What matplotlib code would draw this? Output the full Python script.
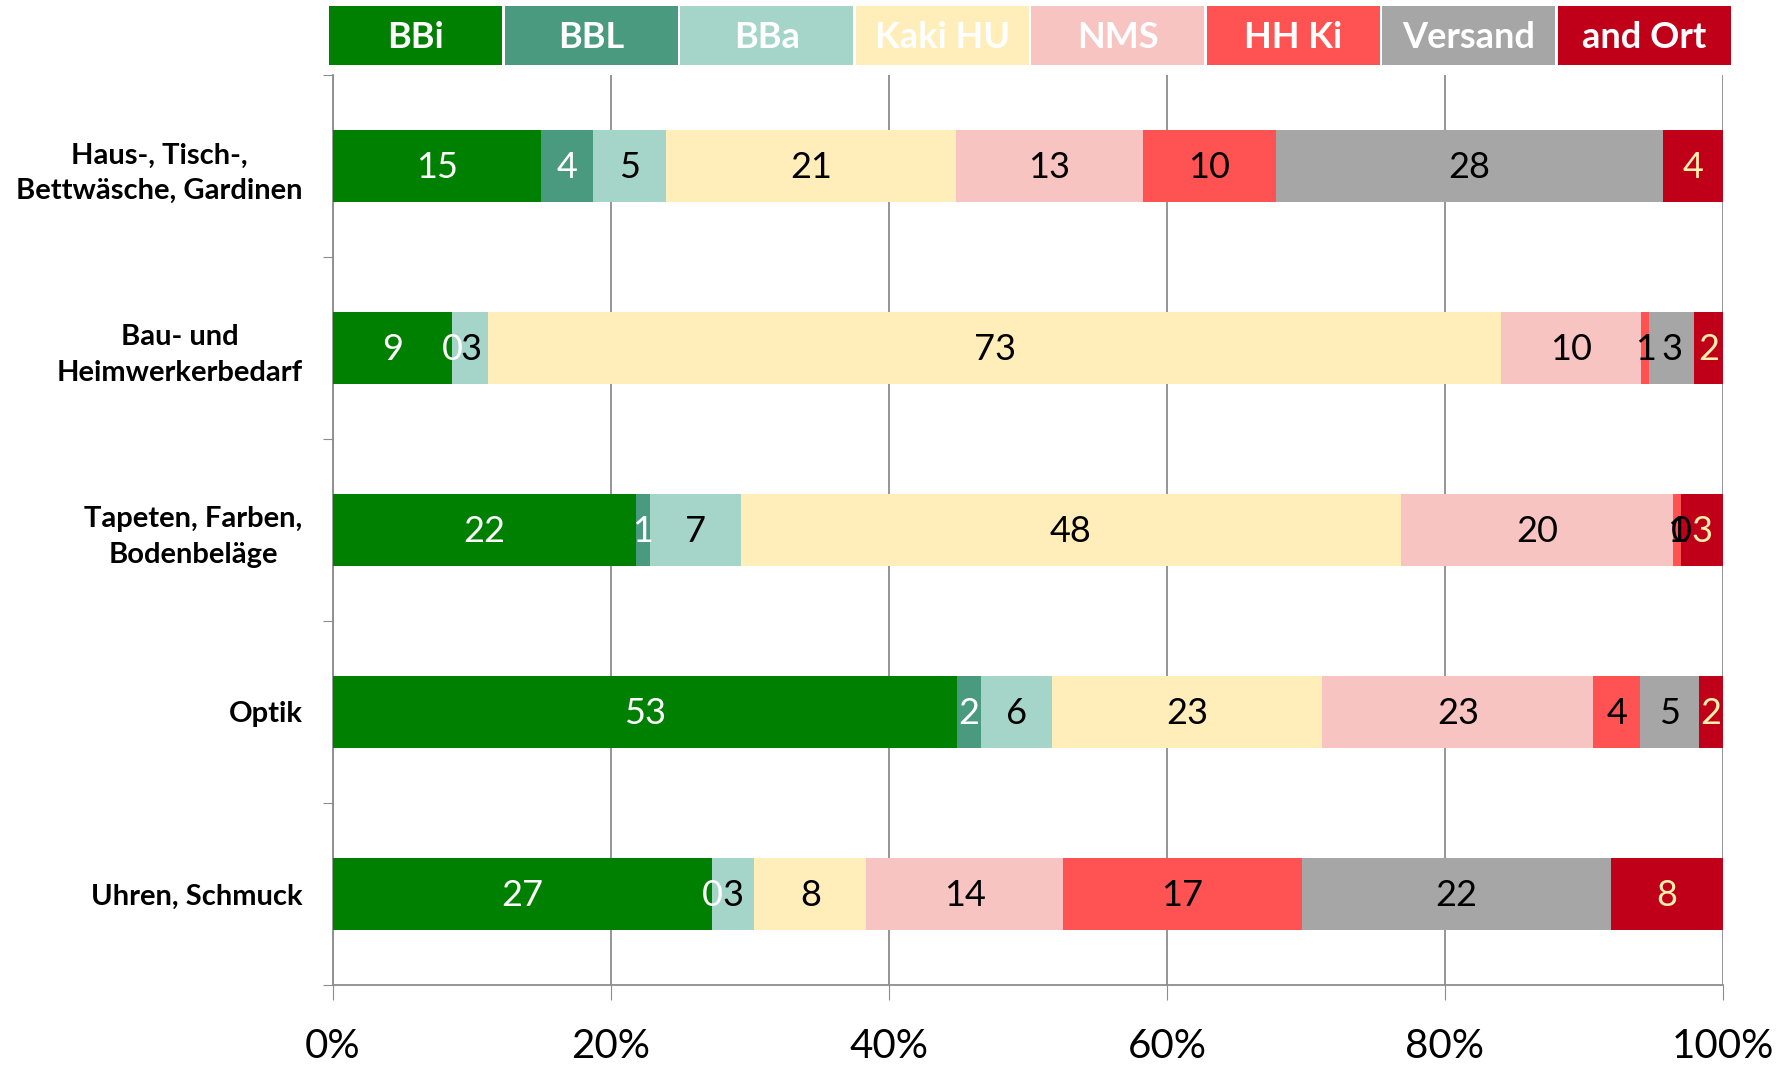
import numpy as np
import matplotlib
matplotlib.use("Agg")
import matplotlib.pyplot as plt

plt.rcParams["font.family"] = ["Lato", "DejaVu Sans"]

categories = ["Haus-, Tisch-,\nBettwäsche, Gardinen", "Bau- und\nHeimwerkerbedarf",
              "Tapeten, Farben,\nBodenbeläge", "Optik", "Uhren, Schmuck"]
series = ["BBi", "BBL", "BBa", "Kaki HU", "NMS", "HH Ki", "Versand", "and Ort"]

bbi = [15.0, 8.6, 21.8, 53, 27]
bbl = [3.7, 0.0, 1.0, 2, 0]
bba = [5.3, 2.6, 6.6, 6, 3]
kaki = [20.9, 72.9, 47.5, 23, 8]
nms = [13.4, 10.1, 19.6, 23, 14]
hhki = [9.6, 0.6, 0.6, 4, 17]
versand = [27.9, 3.2, 0.0, 5, 22]
ort = [4.3, 2.1, 3.0, 2, 8]

colors = ["#008000", "#4A9A80", "#A4D5C8", "#FFEEBA", "#F8C4C2", "#FF5252", "#A6A6A6", "#C00018"]
label_colors = ["white", "white", "black", "black", "black", "black", "black", "#FFF0AE"]

data = np.array([bbi, bbl, bba, kaki, nms, hhki, versand, ort], dtype=float)
pct = data / data.sum(axis=0) * 100

fig = plt.figure(figsize=(17.91, 10.67), dpi=100)
ax = fig.add_axes([0.1859, 0.0769, 0.9620 - 0.1859, 0.9297 - 0.0769])

y = np.arange(len(categories))
left = np.zeros(len(categories))
for i, name in enumerate(series):
    ax.barh(y, pct[i], left=left, height=0.40, color=colors[i], zorder=3)
    for j in range(len(categories)):
        ax.text(left[j] + pct[i, j] / 2, y[j] + 0.01, f"{data[i, j]:.0f}",
                ha="center", va="center", fontsize=26, color=label_colors[i], zorder=4)
    left += pct[i]

ax.set_xlim(0, 100)
ax.set_ylim(len(categories) - 0.5, -0.5)
ax.set_xticks(np.arange(0, 101, 20))
ax.set_xticklabels([f"{v}%" for v in range(0, 101, 20)], fontsize=29)
ax.tick_params(axis="x", length=11, color="#8C8C8C", pad=20)
ax.grid(axis="x", color="#8C8C8C", linewidth=1.3, zorder=0)

ax.set_yticks(np.arange(-0.5, len(categories), 1.0))
ax.set_yticklabels([])
ax.tick_params(axis="y", which="major", length=7, color="#8C8C8C")
ax.set_yticks(y, minor=True)
ax.set_yticklabels(categories, minor=True, fontsize=21, fontweight="bold",
                   multialignment="center", linespacing=1.45)
ax.tick_params(axis="y", which="minor", length=0, pad=22)

for s in ("top", "right"):
    ax.spines[s].set_visible(False)
for s in ("left", "bottom"):
    ax.spines[s].set_color("#8C8C8C")
    ax.spines[s].set_linewidth(1.3)

# legend as a row of coloured boxes
lax = fig.add_axes([328 / 1791, 1 - 65 / 1067, (1732 - 328) / 1791, 59 / 1067])
lax.bar(np.arange(len(series)), 1, width=0.985, color=colors)
for i, name in enumerate(series):
    lax.text(i, 0.46, name, ha="center", va="center", fontsize=26,
             fontweight="bold", color="white")
lax.set_xlim(-0.5, len(series) - 0.5)
lax.set_ylim(0, 1)
lax.axis("off")

fig.savefig("out.png", dpi=100)
